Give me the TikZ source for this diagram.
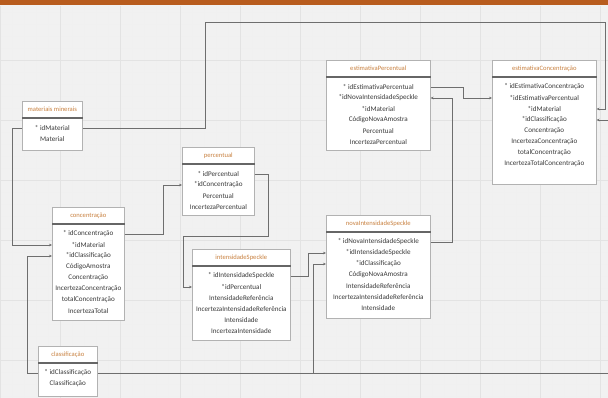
\documentclass[tikz,border=0pt]{standalone}
\usepackage{fontspec}
\setmainfont{Carlito}
\usetikzlibrary{arrows.meta}
\definecolor{bandorange}{HTML}{B85C1E}
\definecolor{ttlorange}{HTML}{C8803F}
\definecolor{rowgray}{HTML}{3A3A3A}
\definecolor{linegray}{HTML}{6E6E6E}
\definecolor{canvas}{HTML}{F1F1F1}
\tikzset{
    tbl/.style={draw=gray!60, fill=white, line width=0.6pt, anchor=north west, inner sep=0pt},
    ttl/.style={font=\fontsize{6.6}{7}\selectfont, text=ttlorange, inner sep=0pt},
    row/.style={font=\fontsize{7.1}{7.5}\selectfont, text=rowgray, inner sep=0pt},
    sep/.style={draw=gray!80!black, line width=1.3pt},
    fk/.style={draw=linegray, line width=0.6pt, -{Stealth[length=3pt,width=2.6pt]}}
}

\begin{document}
\begin{tikzpicture}[x=1pt,y=1pt]
    % Canvas
    \useasboundingbox (0,0) rectangle (608,-398);
    \fill[canvas] (0,0) rectangle (608,-398);
    \draw[step=12, gray!12, line width=0.3pt] (0,-6) grid (608,-398);
    \draw[step=60, gray!22, line width=0.4pt] (0,-6) grid (608,-398);
    \fill[bandorange] (0,0) rectangle (608,-5);

    % materiais minerais
    \node[tbl, minimum width=60, minimum height=49] (mm) at (22,-101) {};
    \node[ttl] (mm-t) at ([yshift=-8.5]mm.north) {materiais minerais};
    \draw[sep] ([yshift=-17]mm.north west) -- ([yshift=-17]mm.north east);
    \foreach \r [count=\i] in {{* idMaterial},{Material}}
        \node[row] (mm-\i) at ([yshift={-16-11*\i}]mm.north) {\r};

    % percentual
    \node[tbl, minimum width=72, minimum height=68] (pc) at (182,-147) {};
    \node[ttl] (pc-t) at ([yshift=-8.5]pc.north) {percentual};
    \draw[sep] ([yshift=-17]pc.north west) -- ([yshift=-17]pc.north east);
    \foreach \r [count=\i] in {{* idPercentual},{*idConcentração},{Percentual},{IncertezaPercentual}}
        \node[row] (pc-\i) at ([yshift={-16-11*\i}]pc.north) {\r};

    % concentracao
    \node[tbl, minimum width=72, minimum height=113] (cc) at (52,-207) {};
    \node[ttl] (cc-t) at ([yshift=-8.5]cc.north) {concentração};
    \draw[sep] ([yshift=-17]cc.north west) -- ([yshift=-17]cc.north east);
    \foreach \r [count=\i] in {{* idConcentração},{*idMaterial},{*idClassificação},{CódigoAmostra},
            {Concentração},{IncertezaConcentração},{totalConcentração},{IncertezaTotal}}
        \node[row] (cc-\i) at ([yshift={-16-11*\i}]cc.north) {\r};

    % intensidadeSpeckle
    \node[tbl, minimum width=98, minimum height=91] (is) at (192,-249) {};
    \node[ttl] (is-t) at ([yshift=-8.5]is.north) {intensidadeSpeckle};
    \draw[sep] ([yshift=-17]is.north west) -- ([yshift=-17]is.north east);
    \foreach \r [count=\i] in {{* idIntensidadeSpeckle},{*idPercentual},{IntensidadeReferência},
            {IncertezaIntensidadeReferência},{Intensidade},{IncertezaIntensidade}}
        \node[row] (is-\i) at ([yshift={-16-11*\i}]is.north) {\r};

    % classificacao
    \node[tbl, minimum width=59, minimum height=50] (cl) at (38,-346) {};
    \node[ttl] (cl-t) at ([yshift=-8.5]cl.north) {classificação};
    \draw[sep] ([yshift=-17]cl.north west) -- ([yshift=-17]cl.north east);
    \foreach \r [count=\i] in {{* idClassificação},{Classificação}}
        \node[row] (cl-\i) at ([yshift={-16-11*\i}]cl.north) {\r};

    % estimativaPercentual
    \node[tbl, minimum width=104, minimum height=90] (ep) at (326,-60) {};
    \node[ttl] (ep-t) at ([yshift=-8.5]ep.north) {estimativaPercentual};
    \draw[sep] ([yshift=-17]ep.north west) -- ([yshift=-17]ep.north east);
    \foreach \r [count=\i] in {{* idEstimativaPercentual},{*idNovaIntensidadeSpeckle},{*idMaterial},
            {CódigoNovaAmostra},{Percentual},{IncertezaPercentual}}
        \node[row] (ep-\i) at ([yshift={-16-11*\i}]ep.north) {\r};

    % estimativaConcentracao
    \node[tbl, minimum width=104, minimum height=124] (ec) at (492,-60) {};
    \node[ttl] (ec-t) at ([yshift=-8.5]ec.north) {estimativaConcentração};
    \draw[sep] ([yshift=-17]ec.north west) -- ([yshift=-17]ec.north east);
    \foreach \r [count=\i] in {{* idEstimativaConcentração},{*idEstimativaPercentual},{*idMaterial},
            {*idClassificação},{Concentração},{IncertezaConcentração},{totalConcentração},
            {IncertezaTotalConcentração}}
        \node[row] (ec-\i) at ([yshift={-16-11*\i}]ec.north) {\r};

    % novaIntensidadeSpeckle
    \node[tbl, minimum width=104, minimum height=103] (ni) at (326,-215) {};
    \node[ttl] (ni-t) at ([yshift=-8.5]ni.north) {novaIntensidadeSpeckle};
    \draw[sep] ([yshift=-17]ni.north west) -- ([yshift=-17]ni.north east);
    \foreach \r [count=\i] in {{* idNovaIntensidadeSpeckle},{*idIntensidadeSpeckle},{*idClassificação},
            {CódigoNovaAmostra},{IntensidadeReferência},{IncertezaIntensidadeReferência},{Intensidade}}
        \node[row] (ni-\i) at ([yshift={-16-11*\i}]ni.north) {\r};

    % Bend points
    \coordinate (tr) at (605,-22);
    \coordinate (rt) at (612,0);
    \coordinate (br) at (313,0);
    \coordinate (pb) at (183,-236);

    % Foreign keys
    \draw[fk] (mm-1 -| mm.east) -- ++(123,0) |- (tr) |- (ec-3 -| ec.east);
    \draw[fk] (mm-1 -| mm.west) -- ++(-10,0) |- (cc-2 -| cc.west);
    \draw[fk] (cl-1 -| cl.west) -- ++(-11,0) |- (cc-3 -| cc.west);
    \draw[fk] (cl-1 -| cl.east) -- (cl-1 -| rt) |- (ec-4 -| ec.east);
    \draw[fk] (cl-1 -| br) |- (ni-3 -| ni.west);
    \draw[fk] (cc-1 -| cc.east) -- ++(39,0) |- (pc-2 -| pc.west);
    \draw[fk] (pc-1 -| pc.east) -- ++(14,0) |- (pb) |- (is-2 -| is.west);
    \draw[fk] (is-1 -| is.east) -- ++(18,0) |- (ni-2 -| ni.west);
    \draw[fk] (ni-1 -| ni.east) -- ++(22,0) |- (ep-2 -| ep.east);
    \draw[fk] (ep-1 -| ep.east) -- ++(33,0) |- (ec-2 -| ec.west);
\end{tikzpicture}
\end{document}
